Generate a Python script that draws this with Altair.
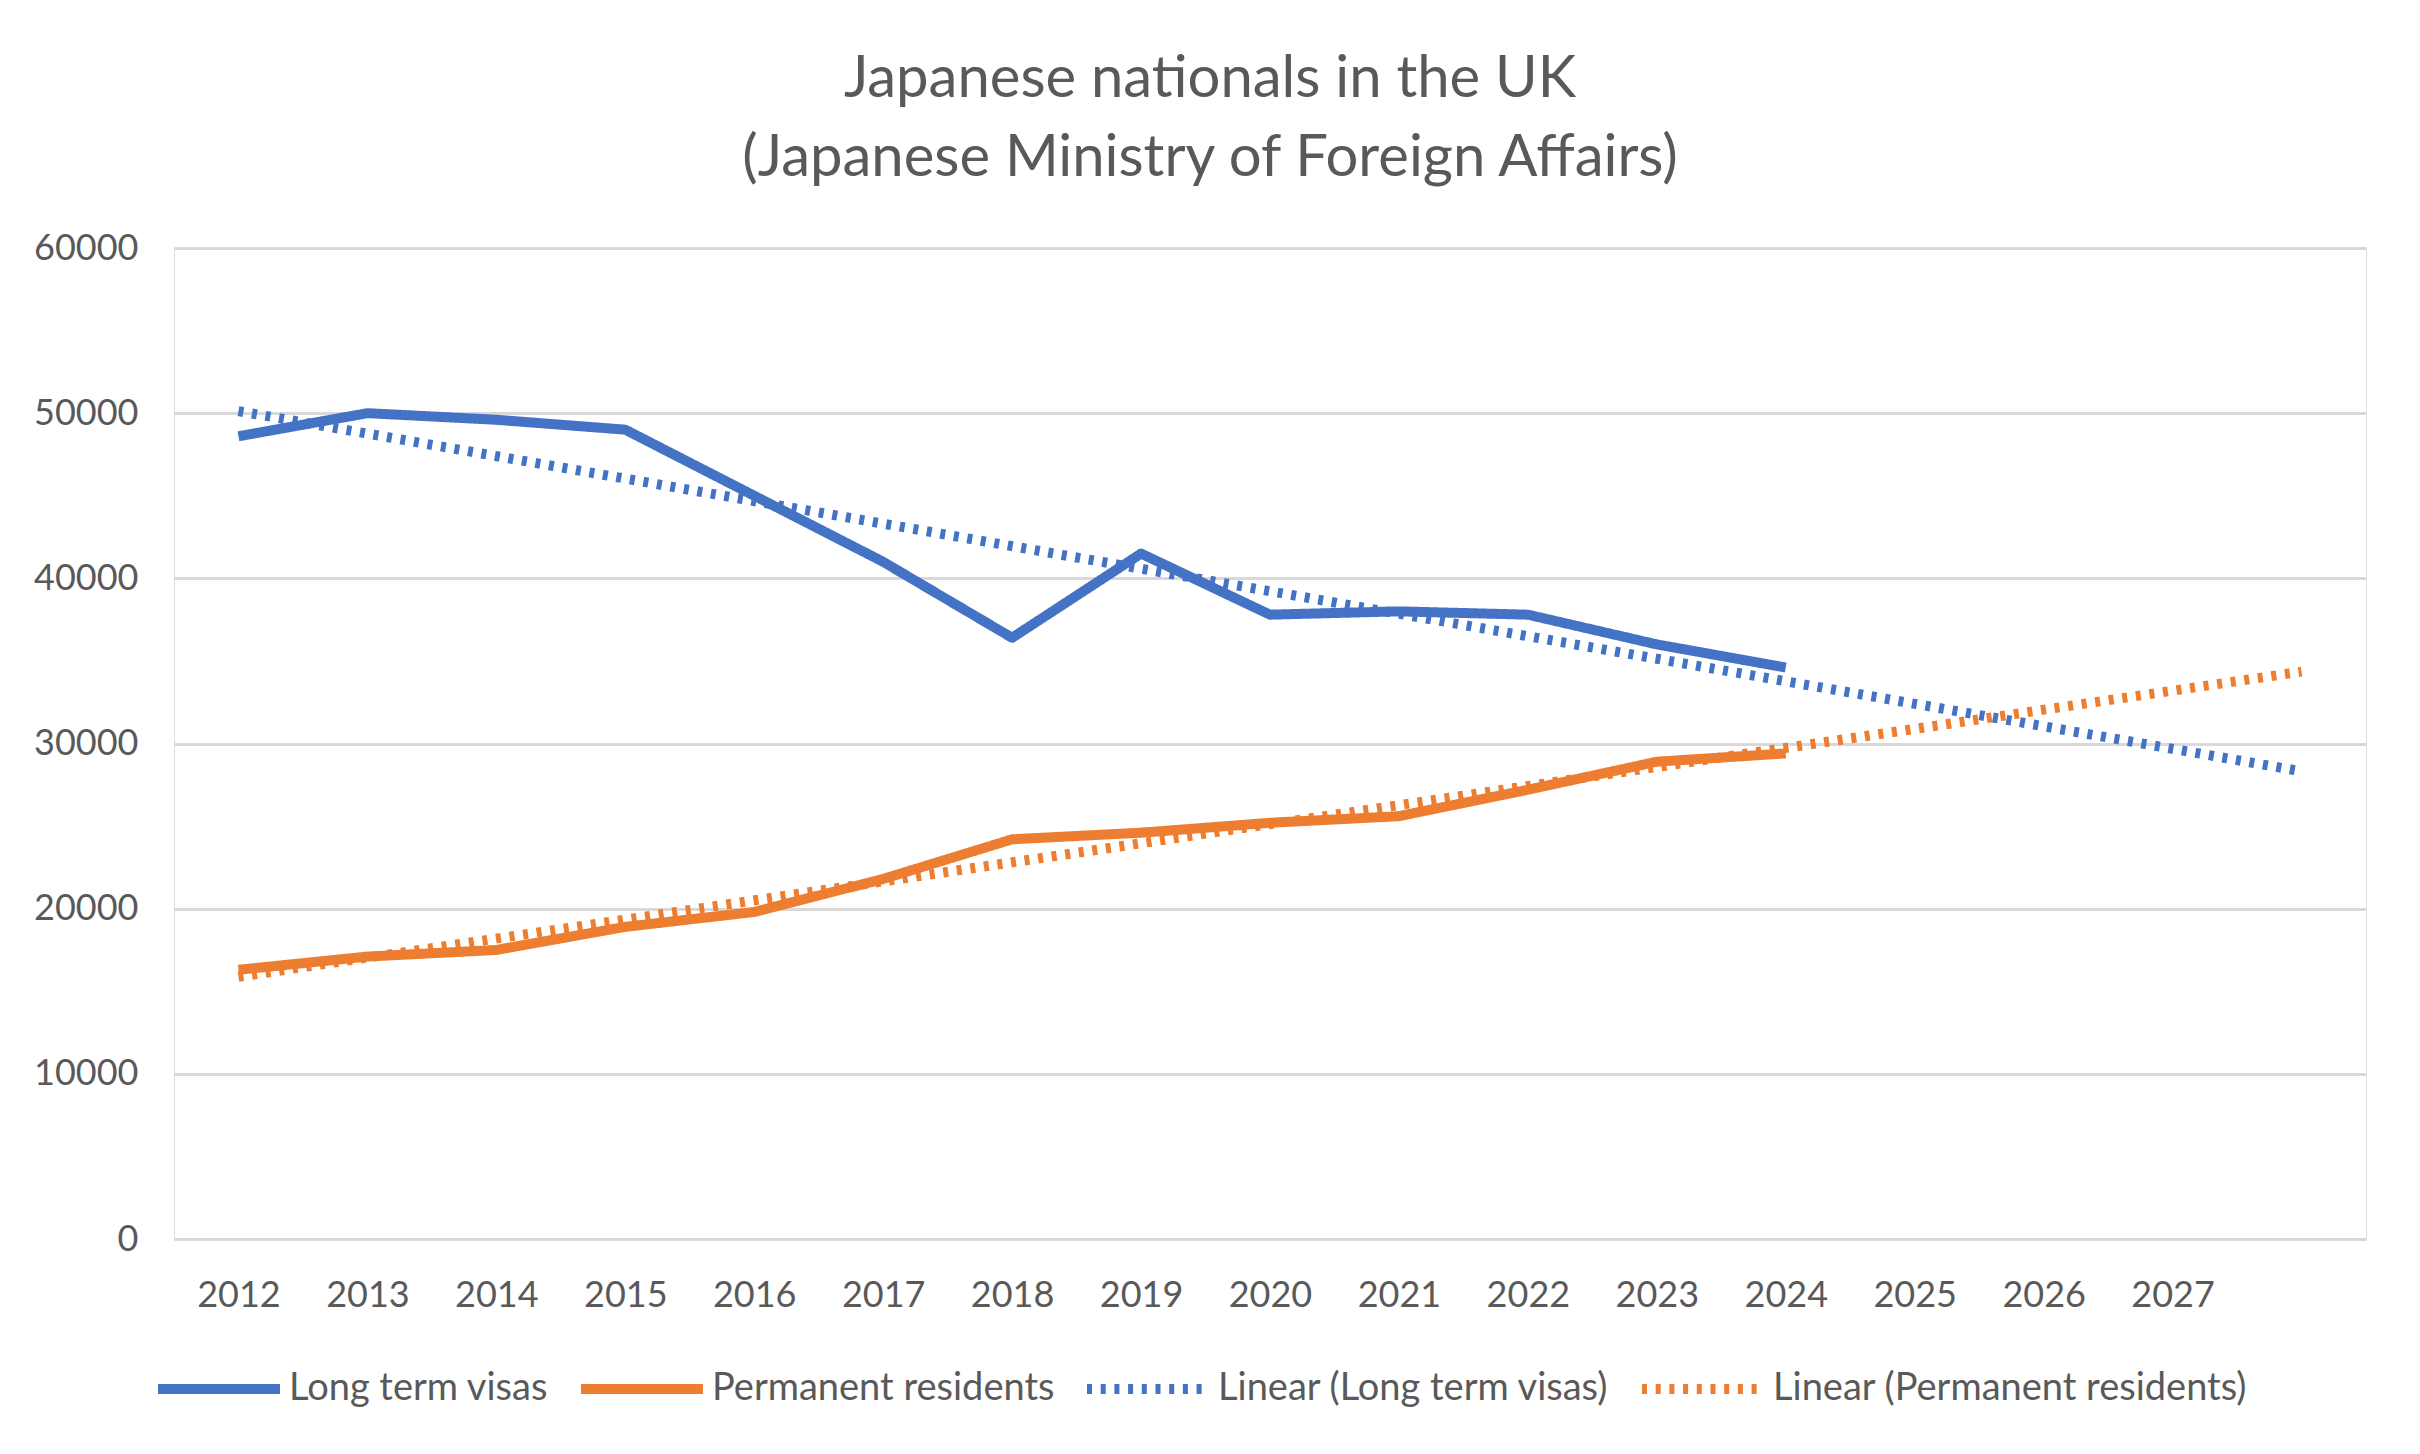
import altair as alt
import pandas as pd

# ---- data ----
years = list(range(2012, 2025))
long_term_visas = [48600, 50000, 49600, 49000, 45000, 41000, 36400, 41500, 37800, 38000, 37800, 36000, 34600]
permanent_residents = [16300, 17100, 17500, 18900, 19800, 21800, 24200, 24600, 25200, 25600, 27200, 28900, 29400]
series_raw = ["Long term visas", "Permanent residents"]
series_names = ["Long term visas", "Permanent residents",
                "Linear (Long term visas)", "Linear (Permanent residents)"]
tick_years = list(range(2012, 2028))
y_ticks = [0, 10000, 20000, 30000, 40000, 50000, 60000]
title_lines = ["Japanese nationals in the UK", "(Japanese Ministry of Foreign Affairs)"]

df = pd.DataFrame({
    "year": years + years,
    "value": long_term_visas + permanent_residents,
    "series": [series_raw[0]] * len(years) + [series_raw[1]] * len(years),
})

TXT = "#595959"
FONT = "Lato"
colors = ["#4472C4", "#ED7D31", "#4472C4", "#ED7D31"]
dashes = [[1, 0], [1, 0], [5, 8.7], [5, 8.7]]
widths = [10, 10, 6, 6]

legend = alt.Legend(
    title=None, orient="none", legendX=-21, legendY=1075,
    direction="horizontal", columns=4, symbolType="stroke", symbolSize=14884,
    labelFontSize=38, labelFont=FONT, labelColor=TXT, labelOffset=4,
    columnPadding=12, labelLimit=0,
)

x = alt.X("year:Q",
          scale=alt.Scale(domain=[2011.5, 2028.5], nice=False, zero=False),
          axis=alt.Axis(values=tick_years, format="d", title=None, grid=False,
                        ticks=False, domain=False, labelFontSize=36, labelFont=FONT,
                        labelColor=TXT, labelPadding=39))
y = alt.Y("value:Q",
          scale=alt.Scale(domain=[0, 60000], nice=False),
          axis=alt.Axis(values=y_ticks, format="d", title=None, grid=True,
                        gridColor="#D9D9D9", gridWidth=3, ticks=False, domain=False,
                        labelFontSize=36, labelFont=FONT, labelColor=TXT, labelPadding=36))
color = alt.Color("series:N", scale=alt.Scale(domain=series_names, range=colors), legend=legend)
dash = alt.StrokeDash("series:N", scale=alt.Scale(domain=series_names, range=dashes), legend=legend)
sw = alt.StrokeWidth("series:N", scale=alt.Scale(domain=series_names, range=widths), legend=legend)

base = alt.Chart(df)

lines = base.mark_line(strokeJoin="round").encode(
    x=x, y=y, color=color, strokeDash=dash, strokeWidth=sw)

trend = base.transform_regression(
    "year", "value", groupby=["series"], extent=[2012, 2028]
).transform_calculate(
    series='"Linear (" + datum.series + ")"'
).mark_line().encode(
    x=x, y=y, color=color, strokeDash=dash, strokeWidth=sw)

chart = alt.layer(lines, trend).properties(
    width=2192, height=991,
    autosize=alt.AutoSizeParams(type="none"),
    padding={"left": 166, "top": 240, "right": 46, "bottom": 200},
    title=alt.Title(title_lines, fontSize=58, font=FONT, fontWeight="normal",
                    color=TXT, lineHeight=79, dx=-60, offset=-16, baseline="bottom"),
).configure_view(stroke=None).configure(font=FONT)

chart.save("out.html", embed_options={"renderer": "svg", "actions": False})
